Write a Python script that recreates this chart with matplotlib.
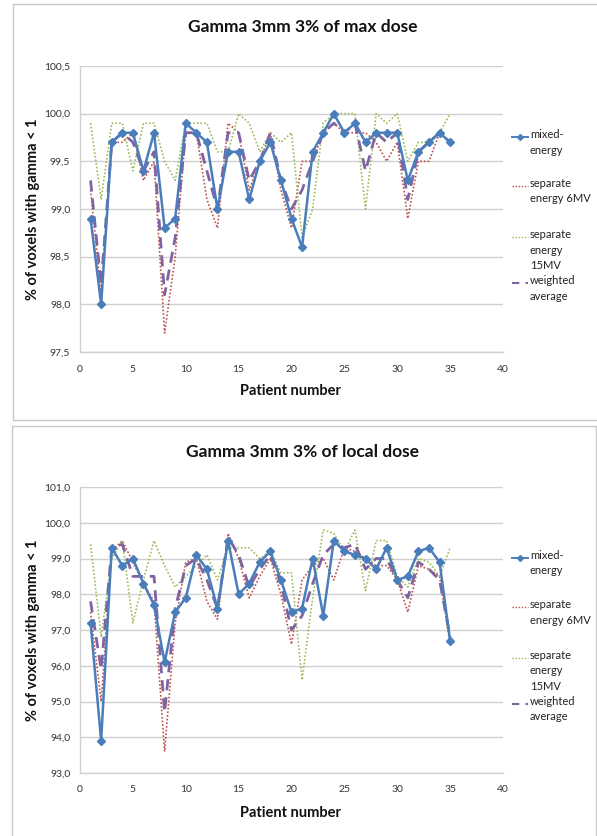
import matplotlib
matplotlib.use("Agg")
import matplotlib.pyplot as plt
from matplotlib.lines import Line2D
from matplotlib.patches import Rectangle
from matplotlib.ticker import FuncFormatter, MultipleLocator

plt.rcParams['font.family'] = ['Lato', 'DejaVu Sans']

patients = list(range(1, 36))

top_mixed = [98.9, 98.0, 99.7, 99.8, 99.8, 99.4, 99.8, 98.8, 98.9, 99.9, 99.8, 99.7, 99.0, 99.6, 99.6,
             99.1, 99.5, 99.7, 99.3, 98.9, 98.6, 99.6, 99.8, 100.0, 99.8, 99.9, 99.7, 99.8, 99.8, 99.8,
             99.3, 99.6, 99.7, 99.8, 99.7]
top_6mv = [99.2, 98.1, 99.7, 99.7, 99.8, 99.3, 99.5, 97.7, 98.5, 99.8, 99.8, 99.1, 98.8, 99.9, 99.8,
           99.2, 99.5, 99.8, 99.2, 98.8, 99.5, 99.5, 99.8, 99.9, 99.8, 99.8, 99.8, 99.7, 99.5, 99.7,
           98.9, 99.5, 99.5, 99.8, 99.7]
top_15mv = [99.9, 99.1, 99.9, 99.9, 99.4, 99.9, 99.9, 99.5, 99.3, 99.9, 99.9, 99.9, 99.6, 99.6, 100.0,
            99.9, 99.6, 99.8, 99.7, 99.8, 98.7, 99.0, 99.9, 100.0, 100.0, 100.0, 99.0, 100.0, 99.9, 100.0,
            99.5, 99.7, 99.7, 99.8, 100.0]
top_weighted = [99.3, 98.2, 99.7, 99.8, 99.7, 99.4, 99.6, 98.1, 98.7, 99.8, 99.8, 99.4, 99.0, 99.8, 99.8,
                99.3, 99.5, 99.8, 99.3, 99.0, 99.2, 99.5, 99.8, 99.9, 99.8, 99.9, 99.4, 99.8, 99.7, 99.8,
                99.1, 99.6, 99.7, 99.8, 99.7]

bot_mixed = [97.2, 93.9, 99.3, 98.8, 99.0, 98.3, 97.7, 96.1, 97.5, 97.9, 99.1, 98.7, 97.6, 99.5, 98.0,
             98.3, 98.9, 99.2, 98.4, 97.5, 97.6, 99.0, 97.4, 99.5, 99.2, 99.1, 99.0, 98.7, 99.3, 98.4,
             98.5, 99.2, 99.3, 98.9, 96.7]
bot_6mv = [97.5, 95.0, 99.2, 99.5, 98.9, 98.3, 97.8, 93.6, 97.2, 98.9, 99.0, 97.8, 97.3, 99.7, 99.0,
           97.9, 98.5, 99.0, 98.0, 96.6, 98.4, 98.8, 99.0, 98.4, 99.3, 99.2, 99.0, 98.8, 98.8, 98.4,
           97.5, 98.8, 98.7, 98.5, 96.6]
bot_15mv = [99.4, 96.8, 99.0, 99.5, 97.2, 98.4, 99.5, 98.8, 98.2, 98.5, 98.8, 99.1, 98.4, 99.3, 99.3,
            99.3, 99.0, 99.2, 98.6, 98.6, 95.6, 97.9, 99.8, 99.7, 99.2, 99.8, 98.1, 99.5, 99.5, 98.5,
            98.2, 99.0, 98.9, 98.5, 99.3]
bot_weighted = [97.8, 95.9, 99.3, 99.4, 98.5, 98.5, 98.5, 94.7, 97.6, 98.8, 99.0, 98.4, 97.6, 99.6, 99.1,
                98.2, 98.7, 99.1, 98.3, 97.0, 97.4, 98.3, 99.1, 99.4, 99.3, 99.4, 98.7, 99.0, 99.0, 98.4,
                97.9, 98.9, 98.7, 98.4, 96.8]

titles = ["Gamma 3mm 3% of max dose", "Gamma 3mm 3% of local dose"]
legend_labels = ["mixed-\nenergy", "separate\nenergy 6MV", "separate\nenergy\n15MV", "weighted\naverage"]
xlabel = "Patient number"
ylabel = "% of voxels with gamma < 1"

C_BLUE = "#4A7EBB"
C_RED = "#C0504D"
C_GREEN = "#9BBB59"
C_PURPLE = "#8064A2"
GRID = "#D0D0D0"

W, H = 597, 836
fig = plt.figure(figsize=(W / 100, H / 100), dpi=100)

def fx(px):
    return px / W

def fy(py):
    return 1 - py / H

# panel frames
fig.add_artist(Rectangle((fx(13), fy(420)), fx(600) - fx(13), fy(4) - fy(420),
                         transform=fig.transFigure, fill=False, edgecolor="#C8C8C8", lw=1.0))
fig.add_artist(Rectangle((fx(12), fy(840)), fx(596) - fx(12), fy(426) - fy(840),
                         transform=fig.transFigure, fill=False, edgecolor="#C8C8C8", lw=1.0))

panels = [
    dict(data=(top_mixed, top_6mv, top_15mv, top_weighted), ytop=66, ybot=352,
         ylim=(97.5, 100.5), ystep=0.5, title_y=27, xlabel_y=391),
    dict(data=(bot_mixed, bot_6mv, bot_15mv, bot_weighted), ytop=487, ybot=773,
         ylim=(93.0, 101.0), ystep=1.0, title_y=452, xlabel_y=813),
]

comma = FuncFormatter(lambda v, p: f"{v:.1f}".replace(".", ","))

for i, pnl in enumerate(panels):
    ax = fig.add_axes([fx(80), fy(pnl['ybot']), fx(503) - fx(80), fy(pnl['ytop']) - fy(pnl['ybot'])])
    mixed, s6, s15, wavg = pnl['data']
    ax.plot(patients, s6, color=C_RED, lw=1.2, ls=(0, (1, 1.2)), zorder=3)
    ax.plot(patients, s15, color=C_GREEN, lw=1.2, ls=(0, (1, 1.2)), zorder=3)
    ax.plot(patients, wavg, color=C_PURPLE, lw=2.0, ls=(0, (4, 2.5)), zorder=4)
    ax.plot(patients, mixed, color=C_BLUE, lw=1.8, marker="D", ms=3.6, zorder=5)
    ax.set_xlim(0, 40)
    ax.set_ylim(*pnl['ylim'])
    ax.xaxis.set_major_locator(MultipleLocator(5))
    ax.yaxis.set_major_locator(MultipleLocator(pnl['ystep']))
    ax.yaxis.set_major_formatter(comma)
    ax.grid(axis='y', color=GRID, lw=1.0)
    ax.set_axisbelow(True)
    for s in ['top', 'right']:
        ax.spines[s].set_visible(False)
    for s in ['left', 'bottom']:
        ax.spines[s].set_color(GRID)
        ax.spines[s].set_linewidth(1.0)
    ax.tick_params(axis='both', length=0, labelsize=7.5, colors="#333333")
    ax.tick_params(axis='x', pad=9)
    ax.tick_params(axis='y', pad=7)

    fig.text(fx(303), fy(pnl['title_y']), titles[i], ha='center', va='center',
             fontsize=12.5, fontweight='bold', color="#111111")
    fig.text(fx(291), fy(pnl['xlabel_y']), xlabel, ha='center', va='center',
             fontsize=10.5, fontweight='bold', color="#111111")
    fig.text(fx(33), fy((pnl['ytop'] + pnl['ybot']) / 2), ylabel, ha='center', va='center',
             rotation=90, fontsize=10.5, fontweight='bold', color="#111111")

    # legend
    offs = [71, 120, 171, 217]
    styles = [dict(color=C_BLUE, lw=1.4, marker="D", ms=3, markevery=[1]),
              dict(color=C_RED, lw=1.0, ls=(0, (1, 1.2))),
              dict(color=C_GREEN, lw=1.0, ls=(0, (1, 1.2))),
              dict(color=C_PURPLE, lw=1.5, ls=(0, (3.5, 3)))]
    for off, lab, st in zip(offs, legend_labels, styles):
        yy = pnl['ytop'] + off
        fig.add_artist(Line2D([fx(512), fx(520), fx(528)], [fy(yy)] * 3,
                              transform=fig.transFigure, **st))
        fig.text(fx(530), fy(yy - 8), lab, ha='left', va='top', fontsize=8.0,
                 color="#222222", linespacing=1.5)

fig.savefig("out.png", dpi=100)
